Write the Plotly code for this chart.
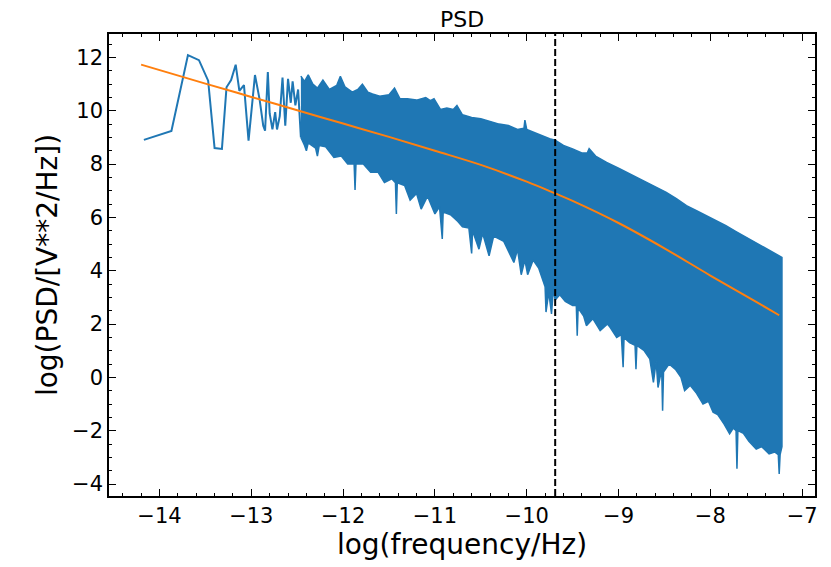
import plotly.graph_objects as go

# sparse low-frequency part of the PSD (log f, log PSD)
psd_x = [-14.17, -13.87, -13.69, -13.57, -13.47, -13.40, -13.32, -13.27, -13.22, -13.17,
         -13.13, -13.08, -13.03, -12.96, -12.91, -12.87, -12.85, -12.82, -12.80, -12.77,
         -12.74, -12.72, -12.69, -12.66, -12.63, -12.60, -12.57, -12.55, -12.52, -12.49, -12.46]
psd_y = [8.91, 9.24, 12.09, 11.90, 11.13, 8.60, 8.57, 10.88, 11.15, 11.73,
         10.75, 10.96, 8.88, 11.34, 10.44, 9.44, 9.25, 11.45, 9.90, 9.30,
         9.95, 9.30, 9.80, 11.25, 9.44, 11.20, 10.30, 11.10, 10.20, 10.80, 9.00]

# dense part: upper envelope
top_x = [-12.46, -12.42, -12.38, -12.33, -12.28, -12.22, -12.15, -12.07, -12.03, -11.98,
         -11.90, -11.84, -11.79, -11.73, -11.68, -11.60, -11.50, -11.44, -11.38, -11.30,
         -11.20, -11.10, -11.05, -11.01, -10.94, -10.87, -10.80, -10.76, -10.70, -10.60,
         -10.50, -10.40, -10.30, -10.20, -10.10, -10.03, -10.02, -10.00, -9.90, -9.85,
         -9.75, -9.69, -9.60, -9.50, -9.40, -9.34, -9.32, -9.25, -9.13, -9.00,
         -8.91, -8.80, -8.69, -8.58, -8.48, -8.37, -8.26, -8.15, -8.04, -7.94,
         -7.83, -7.72, -7.61, -7.50, -7.39, -7.30, -7.22]
top_y = [11.30, 11.10, 11.35, 11.00, 10.85, 11.15, 10.80, 10.95, 11.29, 10.90,
         10.70, 10.80, 11.00, 10.70, 10.63, 10.55, 10.60, 10.85, 10.45, 10.45,
         10.40, 10.50, 10.38, 10.45, 10.05, 10.10, 10.05, 10.20, 9.85, 9.75,
         9.70, 9.60, 9.50, 9.45, 9.30, 9.35, 9.65, 9.30, 9.15, 9.10,
         8.95, 8.90, 8.70, 8.57, 8.42, 8.42, 8.58, 8.30, 8.06, 7.85,
         7.69, 7.50, 7.31, 7.12, 6.94, 6.70, 6.44, 6.25, 6.06, 5.88,
         5.69, 5.47, 5.25, 5.03, 4.81, 4.65, 4.50]

# dense part: lower envelope with the downward spikes
bot_x = [-12.46, -12.42, -12.40, -12.38, -12.30, -12.28, -12.26, -12.19, -12.10, -12.02,
         -11.95, -11.88, -11.87, -11.86, -11.78, -11.70, -11.62, -11.55, -11.47, -11.43,
         -11.42, -11.41, -11.33, -11.27, -11.20, -11.15, -11.08, -11.00, -10.95, -10.92,
         -10.91, -10.83, -10.75, -10.70, -10.63, -10.60, -10.59, -10.52, -10.48, -10.41,
         -10.36, -10.25, -10.14, -10.10, -10.06, -10.02, -9.99, -9.93, -9.87, -9.80,
         -9.79, -9.76, -9.73, -9.71, -9.69, -9.64, -9.58, -9.50, -9.46, -9.45,
         -9.44, -9.38, -9.35, -9.28, -9.20, -9.12, -9.09, -9.02, -8.97, -8.95,
         -8.94, -8.88, -8.82, -8.81, -8.80, -8.72, -8.66, -8.62, -8.59, -8.57,
         -8.53, -8.52, -8.51, -8.45, -8.38, -8.32, -8.28, -8.22, -8.15, -8.08,
         -8.02, -7.97, -7.92, -7.85, -7.79, -7.75, -7.72, -7.71, -7.70, -7.64,
         -7.58, -7.50, -7.44, -7.36, -7.30, -7.26, -7.25, -7.24, -7.22]
bot_y = [9.00, 8.70, 8.50, 8.80, 8.60, 8.30, 8.70, 8.65, 8.25, 8.30,
         8.00, 8.00, 7.03, 8.00, 8.00, 7.69, 7.70, 7.31, 7.45, 7.30,
         6.13, 7.30, 7.20, 6.65, 6.90, 6.31, 6.80, 6.13, 6.40, 5.19,
         6.20, 6.10, 5.85, 5.65, 5.60, 4.65, 5.50, 4.81, 5.40, 4.56,
         5.30, 5.10, 4.31, 4.80, 3.85, 4.40, 3.85, 4.40, 4.10, 3.40,
         2.45, 3.20, 2.38, 3.30, 2.90, 3.10, 2.85, 2.70, 2.70, 1.56,
         2.60, 2.30, 1.94, 2.20, 1.75, 2.00, 1.87, 1.50, 1.60, 0.38,
         1.50, 1.30, 1.20, 0.31, 1.20, 1.00, 0.70, -0.19, 0.60, -0.38,
         0.30, -1.25, 0.20, 0.50, 0.30, 0.00, -0.50, -0.30, -0.60, -1.00,
         -0.90, -1.31, -1.40, -1.75, -2.12, -1.90, -2.00, -3.43, -2.00, -2.10,
         -2.40, -2.69, -2.60, -2.87, -2.80, -2.90, -3.62, -2.90, -2.60]

# model fit
fit_x = [-14.2, -13.5, -13.0, -12.5, -12.0, -11.5, -11.0, -10.5, -10.0, -9.69,
         -9.5, -9.0, -8.5, -8.0, -7.5, -7.25]
fit_y = [11.73, 11.02, 10.52, 10.02, 9.52, 9.02, 8.50, 7.97, 7.34, 6.90,
         6.62, 5.79, 4.84, 3.82, 2.83, 2.33]

f_break = -9.69

blue = '#1f77b4'
orange = '#ff7f0e'

fig = go.Figure()
fig.add_trace(go.Scatter(x=psd_x, y=psd_y, mode='lines',
    line=dict(color=blue, width=2), showlegend=False))
fig.add_trace(go.Scatter(x=top_x + bot_x[::-1], y=top_y + bot_y[::-1],
    mode='lines', fill='toself', fillcolor=blue,
    line=dict(color=blue, width=1.5), showlegend=False))
fig.add_trace(go.Scatter(x=fit_x, y=fit_y, mode='lines',
    line=dict(color=orange, width=2, shape='spline', smoothing=1), showlegend=False))
fig.add_vline(x=f_break, line=dict(color='black', width=2, dash='7px,3px'))

axis_style = dict(showline=True, linecolor='black', linewidth=1.5, mirror='allticks',
                  ticks='inside', ticklen=7, tickwidth=1.2, tickcolor='black',
                  showgrid=False, zeroline=False, automargin=False,
                  tickfont=dict(family='DejaVu Sans', size=21, color='black'))

# page body adds an 8px offset, so the figure is 8px smaller than the window
fig.update_layout(
    width=823, height=559,
    margin=dict(l=101, r=16, t=26, b=71),
    plot_bgcolor='white', paper_bgcolor='white',
    title=dict(text='PSD', xref='paper', x=0.5, xanchor='center',
               yref='container', y=0.9935, yanchor='top',
               font=dict(family='DejaVu Sans', size=22, color='black')),
    xaxis=dict(range=[-14.55, -6.86], dtick=1, **axis_style,
               minor=dict(ticks='inside', dtick=0.2, ticklen=3.5, tickcolor='black'),
               title=dict(text='log(frequency/Hz)', standoff=6,
                          font=dict(family='DejaVu Sans', size=28, color='black'))),
    yaxis=dict(range=[-4.45, 12.88], dtick=2, **axis_style,
               minor=dict(ticks='inside', dtick=0.5, ticklen=3.5, tickcolor='black'),
               title=dict(text='log(PSD/[V**2/Hz])', standoff=6,
                          font=dict(family='DejaVu Sans', size=28, color='black'))),
)

fig.write_html('out.html')
